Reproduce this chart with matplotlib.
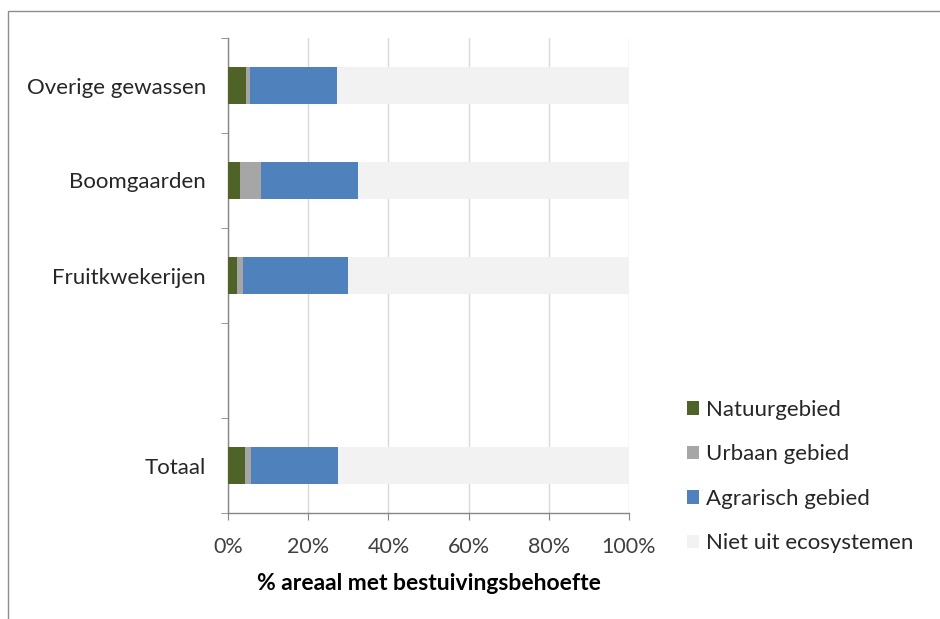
import matplotlib
matplotlib.use("Agg")
import matplotlib.pyplot as plt
from matplotlib.patches import Rectangle, Patch
import numpy as np

categories = ["Totaal", "", "Fruitkwekerijen", "Boomgaarden", "Overige gewassen"]
natuur = [4.2, 0, 2.3, 3.1, 4.5]
urbaan = [1.5, 0, 1.5, 5.1, 1.1]
agrarisch = [21.7, 0, 26.2, 24.1, 21.6]
niet = [72.6, 0, 70.0, 67.7, 72.8]
series_names = ["Natuurgebied", "Urbaan gebied", "Agrarisch gebied", "Niet uit ecosystemen"]
colors = ["#4F6228", "#A6A6A6", "#4F81BD", "#F2F2F2"]
xticks = [0, 20, 40, 60, 80, 100]
xticklabels = ["0%", "20%", "40%", "60%", "80%", "100%"]

plt.rcParams['font.family'] = ['Lato', 'DejaVu Sans']

fig = plt.figure(figsize=(9.4, 6.19), dpi=100)
ax = fig.add_axes([228/940, 1-513/619, (629-228)/940, (513-38)/619])

# figure border
fig.patches.append(Rectangle((8/940, -0.1), 1.2, 1-11/619+0.1, transform=fig.transFigure,
                             fill=False, edgecolor="#8C8C8C", linewidth=1.0))

y = np.arange(len(categories))
data = [natuur, urbaan, agrarisch, niet]
left = np.zeros(len(categories))
handles = []
mask = np.array([cat != "" for cat in categories])
for vals, c, name in zip(data, colors, series_names):
    vals = np.array(vals)
    ax.barh(y[mask], vals[mask], left=left[mask], height=0.39, color=c, edgecolor="none", zorder=3)
    left = left + vals
    handles.append(Patch(facecolor=c, edgecolor="none", label=name))

ax.set_xlim(0, 100)
ax.set_ylim(-0.5, len(categories) - 0.5)
ax.set_xticks(xticks)
ax.set_xticklabels(xticklabels, fontsize=15.5, color="#404040")
ax.set_yticks(y)
ax.set_yticklabels(categories, fontsize=16, color="#262626")
ax.tick_params(axis="y", length=0, pad=16)
ax.set_yticks(np.arange(-0.5, len(categories)), minor=True)
ax.tick_params(axis="y", which="minor", length=5, direction="out", color="#868686", left=True)
ax.tick_params(axis="x", length=5, direction="out", color="#868686", pad=12)
ax.grid(axis="x", color="#D9D9D9", linewidth=1, zorder=0)
for s in ["top", "right"]:
    ax.spines[s].set_visible(False)
for s in ["left", "bottom"]:
    ax.spines[s].set_color("#868686")
    ax.spines[s].set_linewidth(1)

ax.set_xlabel("% areaal met bestuivingsbehoefte", fontsize=16.5, fontweight="bold", color="#000000", labelpad=12)

leg = fig.legend(handles=handles, loc="upper left", bbox_to_anchor=(667/940, 1-380/619),
                 frameon=False, fontsize=16, handlelength=0.55, handleheight=0.55,
                 handletextpad=0.3, labelspacing=1.1, labelcolor="#262626")

fig.savefig("out.png", dpi=100, facecolor="white")
